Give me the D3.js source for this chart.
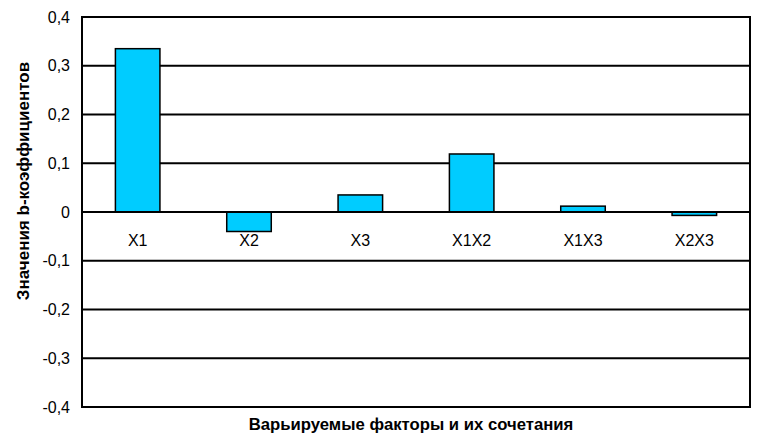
<!DOCTYPE html>
<html><head><meta charset="utf-8">
<script src="https://cdn.jsdelivr.net/npm/d3@7"></script>
<style>body{margin:0;background:#fff;}svg{display:block;font-family:"Liberation Sans",Arial,sans-serif;}</style>
</head><body>
<svg id="c" width="762" height="447"></svg>
<script>
const categories = ["X1","X2","X3","X1X2","X1X3","X2X3"];
const values = [0.335, -0.040, 0.035, 0.119, 0.012, -0.007];
const yTicks = [-0.4,-0.3,-0.2,-0.1,0,0.1,0.2,0.3,0.4];
const xTitle = "Варьируемые факторы и их сочетания";
const yTitle = "Значения b-коэффициентов";

const svg = d3.select("#c");
const L = 82, R = 750, T = 17, B = 407;
const x = d3.scaleBand().domain(categories).range([L, R]).paddingInner(0.6).paddingOuter(0.3);
const y = d3.scaleLinear().domain([-0.4, 0.4]).range([B, T]);
const fmt = d => d === 0 ? "0" : d3.format(".1f")(d).replace(".", ",").replace("−","-");

// gridlines
svg.append("g").selectAll("line").data(yTicks).join("line")
  .attr("x1", L).attr("x2", R).attr("y1", d => y(d)).attr("y2", d => y(d))
  .attr("stroke", "#000").attr("stroke-width", 2);
// frame
svg.append("rect").attr("x", L).attr("y", T).attr("width", R - L).attr("height", B - T)
  .attr("fill", "none").attr("stroke", "#000").attr("stroke-width", 2);

// y tick labels
svg.append("g").selectAll("text").data(yTicks).join("text")
  .attr("x", 70).attr("y", d => y(d)).attr("dy", "0.35em")
  .attr("text-anchor", "end").attr("font-size", 16).attr("fill", "#000")
  .text(fmt);

// bars
svg.append("g").selectAll("rect").data(values).join("rect")
  .attr("x", (d, i) => x(categories[i]))
  .attr("width", x.bandwidth())
  .attr("y", d => y(Math.max(0, d)))
  .attr("height", d => Math.abs(y(d) - y(0)))
  .attr("fill", "#00CCFF").attr("stroke", "#000").attr("stroke-width", 1.5);

// zero line on top
svg.append("line").attr("x1", L).attr("x2", R).attr("y1", y(0)).attr("y2", y(0))
  .attr("stroke", "#000").attr("stroke-width", 2);

// category labels
svg.append("g").selectAll("text").data(categories).join("text")
  .attr("x", d => x(d) + x.bandwidth() / 2).attr("y", y(0) + 34)
  .attr("text-anchor", "middle").attr("font-size", 16).attr("fill", "#000")
  .text(d => d);

// axis titles
svg.append("text").attr("x", 411).attr("y", 430)
  .attr("text-anchor", "middle").attr("font-size", 16.7).attr("font-weight", "bold").text(xTitle);
svg.append("text").attr("transform", "translate(29,181) rotate(-90)")
  .attr("text-anchor", "middle").attr("font-size", 17).attr("font-weight", "bold").text(yTitle);
</script>
</body></html>
